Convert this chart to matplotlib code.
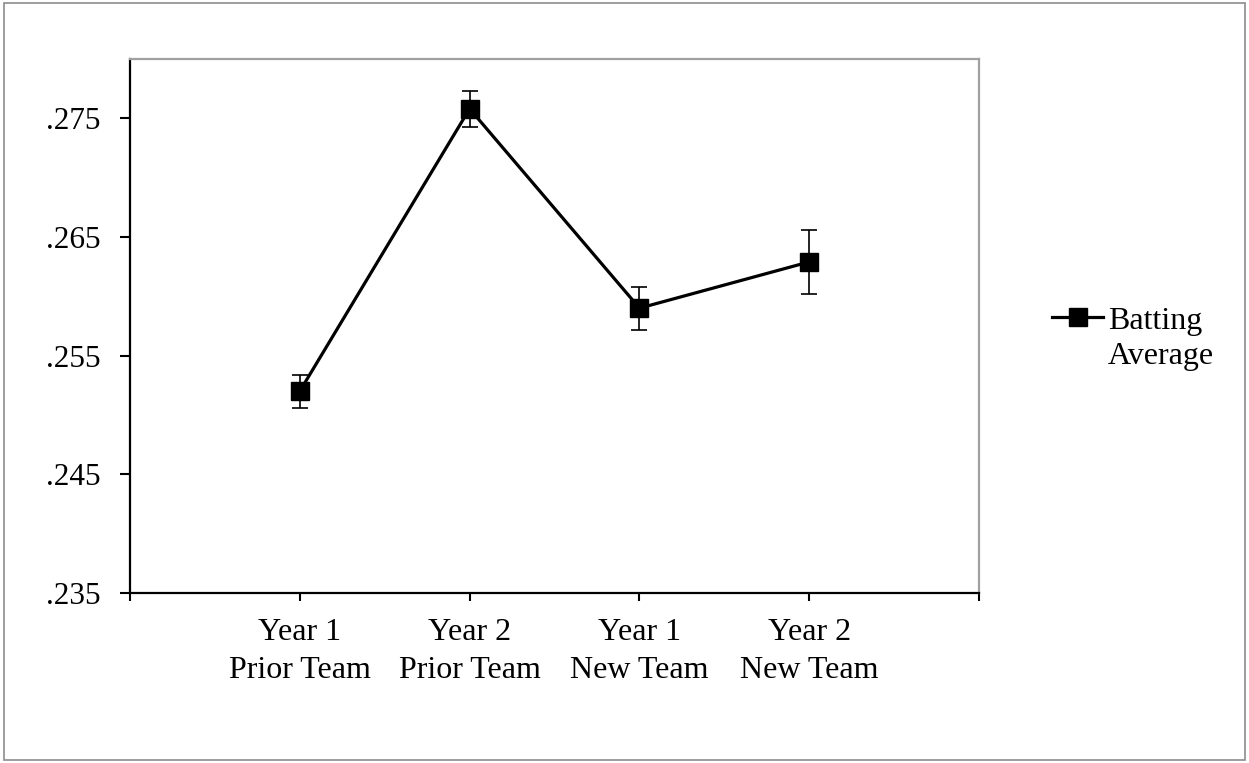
import matplotlib.pyplot as plt
from matplotlib.lines import Line2D
from matplotlib.patches import Rectangle
from matplotlib.ticker import FixedLocator, FuncFormatter

categories = ['Year 1\nPrior Team', 'Year 2\nPrior Team', 'Year 1\nNew Team', 'Year 2\nNew Team']
batting_avg = [0.2520, 0.2758, 0.2590, 0.2629]
batting_err = [0.0014, 0.0015, 0.0018, 0.0027]
y_ticks = [0.235, 0.245, 0.255, 0.265, 0.275]

plt.rcParams['font.family'] = ['Liberation Serif', 'DejaVu Serif']
fs = 23

fig = plt.figure(figsize=(12.49, 7.63), dpi=100)
ax = fig.add_axes([0.104, 0.2228, 0.680, 0.700])

x = list(range(1, len(categories) + 1))
ax.errorbar(x, batting_avg, yerr=batting_err, fmt='none', ecolor='black',
            elinewidth=1.2, capsize=5.8, capthick=1.2)
line, = ax.plot(x, batting_avg, color='black', linewidth=2.3,
                marker='s', markersize=13)

ax.set_xlim(0, len(categories) + 1)
ax.set_ylim(0.235, 0.280)
ax.xaxis.set_major_locator(FixedLocator(range(0, len(categories) + 2)))
ax.xaxis.set_major_formatter(FuncFormatter(
    lambda v, p: categories[int(round(v)) - 1] if 1 <= round(v) <= len(categories) else ''))
ax.set_yticks(y_ticks)
ax.yaxis.set_major_formatter(FuncFormatter(lambda v, p: ('%.3f' % v)[1:]))

ax.tick_params(axis='x', direction='out', length=6, width=1.5, pad=12, labelsize=fs)
ax.tick_params(axis='y', direction='out', length=7, width=1.5, pad=14, labelsize=22.5)
for t in ax.get_xticklabels():
    t.set_linespacing(1.4)

for s in ['left', 'bottom']:
    ax.spines[s].set_color('black')
    ax.spines[s].set_linewidth(1.6)
for s in ['top', 'right']:
    ax.spines[s].set_color('#a0a0a0')
    ax.spines[s].set_linewidth(1.6)

blank = Line2D([], [], linestyle='none')
leg = ax.legend(handles=[line, blank], labels=['Batting', 'Average'],
                loc='upper left', bbox_to_anchor=(1.086, 0.537), frameon=False,
                fontsize=fs, handlelength=1.6, handletextpad=0.15,
                labelspacing=0.2, borderaxespad=0, borderpad=0)

fig.patches.append(Rectangle((0.003, 0.004), 0.994, 0.992, transform=fig.transFigure,
                             fill=False, edgecolor='#8c8c8c', linewidth=1.2))

fig.savefig('out.png', dpi=100)
